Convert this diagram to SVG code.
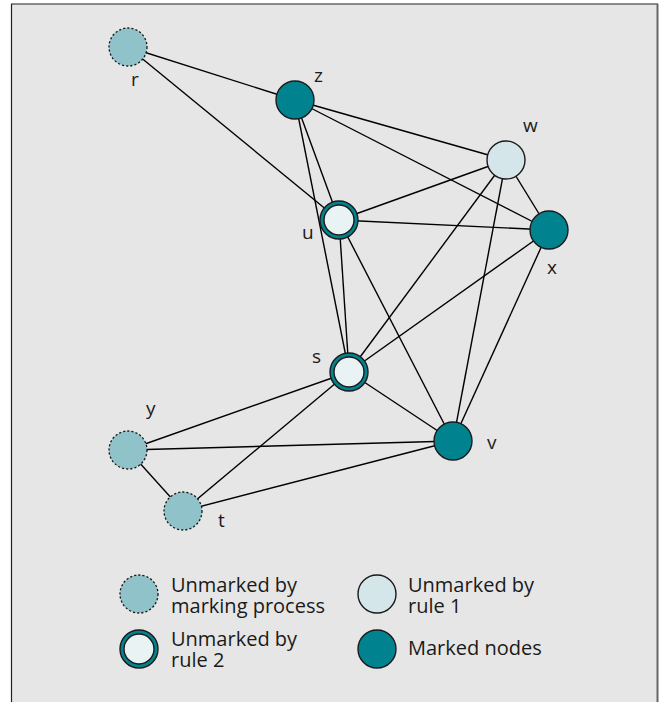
<svg xmlns="http://www.w3.org/2000/svg" width="664" height="702" viewBox="0 0 664 702">
<style>
.edge{stroke:#000;stroke-width:1.4;fill:none}
.nd{stroke:#1a1a1a;stroke-width:1.4}
.dot{fill:#8fc2c9;stroke:#1a1a1a;stroke-width:1.3;stroke-dasharray:2.2 2}
.marked{fill:#00838f}
.r1{fill:#d4e6e9}
.r2in{fill:#eaf3f3}
.lbl{font-family:"Open Sans","Liberation Sans",sans-serif;font-size:19px;fill:#1a1a1a}
.leg{font-family:"Open Sans","Liberation Sans",sans-serif;font-size:20px;fill:#1a1a1a}
</style>
<rect x="0" y="0" width="664" height="702" fill="#fff"/>
<rect x="11" y="4" width="647" height="698" fill="#e6e6e6"/>
<line x1="11" y1="4" x2="658" y2="4" stroke="#666" stroke-width="1.6"/>
<line x1="657.5" y1="4" x2="657.5" y2="702" stroke="#666" stroke-width="2"/>
<line x1="11.5" y1="4" x2="11.5" y2="702" stroke="#222" stroke-width="1.2"/>
<g id="connectors">
<line class="edge" x1="128" y1="47" x2="295" y2="100"/>
<line class="edge" x1="128" y1="47" x2="339" y2="220"/>
<line class="edge" x1="295" y1="100" x2="506" y2="160"/>
<line class="edge" x1="295" y1="100" x2="549" y2="230"/>
<line class="edge" x1="295" y1="100" x2="339" y2="220"/>
<line class="edge" x1="295" y1="100" x2="349" y2="372"/>
<line class="edge" x1="506" y1="160" x2="339" y2="220"/>
<line class="edge" x1="506" y1="160" x2="549" y2="230"/>
<line class="edge" x1="506" y1="160" x2="349" y2="372"/>
<line class="edge" x1="506" y1="160" x2="453" y2="441"/>
<line class="edge" x1="339" y1="220" x2="549" y2="230"/>
<line class="edge" x1="339" y1="220" x2="349" y2="372"/>
<line class="edge" x1="339" y1="220" x2="453" y2="441"/>
<line class="edge" x1="549" y1="230" x2="349" y2="372"/>
<line class="edge" x1="549" y1="230" x2="453" y2="441"/>
<line class="edge" x1="349" y1="372" x2="128" y2="450"/>
<line class="edge" x1="349" y1="372" x2="183" y2="511"/>
<line class="edge" x1="349" y1="372" x2="453" y2="441"/>
<line class="edge" x1="128" y1="450" x2="453" y2="441"/>
<line class="edge" x1="128" y1="450" x2="183" y2="511"/>
<line class="edge" x1="183" y1="511" x2="453" y2="441"/>
</g>
<g id="node-r"><circle class="dot" cx="128" cy="47" r="19"/><text class="lbl" x="131" y="86">r</text></g>
<g id="node-z"><circle class="nd marked" cx="295" cy="100" r="19"/><text class="lbl" x="314" y="82">z</text></g>
<g id="node-w"><circle class="nd r1" cx="506" cy="160" r="19"/><text class="lbl" x="523" y="132">w</text></g>
<g id="node-u"><circle class="nd marked" cx="339" cy="220" r="19"/><circle class="nd r2in" cx="339" cy="220" r="15"/><text class="lbl" x="302" y="239">u</text></g>
<g id="node-x"><circle class="nd marked" cx="549" cy="230" r="19"/><text class="lbl" x="547" y="274">x</text></g>
<g id="node-s"><circle class="nd marked" cx="349" cy="372" r="19"/><circle class="nd r2in" cx="349" cy="372" r="15"/><text class="lbl" x="312" y="363">s</text></g>
<g id="node-v"><circle class="nd marked" cx="453" cy="441" r="19"/><text class="lbl" x="487" y="449">v</text></g>
<g id="node-y"><circle class="dot" cx="128" cy="450" r="19"/><text class="lbl" x="146" y="415">y</text></g>
<g id="node-t"><circle class="dot" cx="183" cy="511" r="19"/><text class="lbl" x="218" y="527">t</text></g>
<g id="legend">
<circle class="dot" cx="139" cy="594" r="19"/>
<text class="leg" x="171" y="592">Unmarked by</text>
<text class="leg" x="171" y="612.5">marking process</text>
<circle class="nd marked" cx="139" cy="649" r="19"/><circle class="nd r2in" cx="139" cy="649" r="15"/>
<text class="leg" x="171" y="646">Unmarked by</text>
<text class="leg" x="171" y="666.5">rule 2</text>
<circle class="nd r1" cx="377" cy="594" r="19"/>
<text class="leg" x="408" y="592">Unmarked by</text>
<text class="leg" x="408" y="612.5">rule 1</text>
<circle class="nd marked" cx="377" cy="649" r="19"/>
<text class="leg" x="408" y="655">Marked nodes</text>
</g>
</svg>
